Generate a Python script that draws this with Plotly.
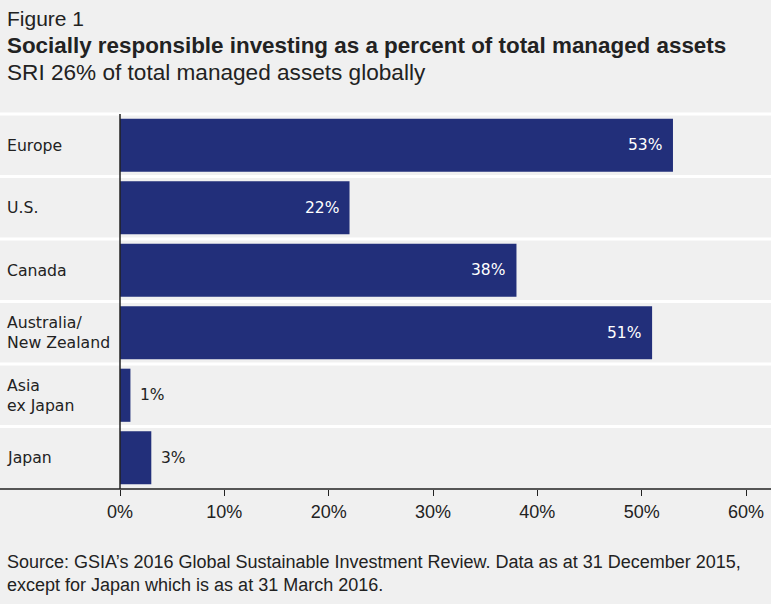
import plotly.graph_objects as go

categories = ["Europe", "U.S.", "Canada", "Australia/<br>New Zealand", "Asia<br>ex Japan", "Japan"]
values = [53, 22, 38, 51, 1, 3]
tick_vals = [0, 10, 20, 30, 40, 50, 60]
tick_text = ["0%", "10%", "20%", "30%", "40%", "50%", "60%"]

W, H = 771, 604
L, R, T, B = 120, 25, 113.5, 115
pw = W - L - R
ph = H - T - B

def py(ypx):
    return (H - B - ypx) / ph

def px(xpx):
    return (xpx - L) / pw

BG = "#f0f0f0"
BAR = "#222f7a"
TXT = "#222222"
BODY = "DejaVu Sans, Verdana, sans-serif"
HEAD = "Liberation Sans Narrow, Liberation Sans, Arial, sans-serif"

n = len(categories)
ypos = list(range(n))

fig = go.Figure()
fig.add_trace(go.Bar(
    x=values, y=ypos, orientation="h",
    marker=dict(color=BAR, line=dict(width=0)),
    width=0.85, hoverinfo="skip",
))

annotations = []
for i, (c, v) in enumerate(zip(categories, values)):
    annotations.append(dict(x=px(5), xref="paper", y=i, yref="y", text=c,
                            showarrow=False, xanchor="left", yanchor="middle", align="left",
                            font=dict(family=BODY, size=15.7, color=TXT)))
    if v > 10:
        annotations.append(dict(x=v, xref="x", y=i, yref="y", text=f"{v}%", showarrow=False,
                                xanchor="right", yanchor="middle", xshift=-9,
                                font=dict(family=BODY, size=15.5, color="white")))
    else:
        annotations.append(dict(x=v, xref="x", y=i, yref="y", text=f"{v}%", showarrow=False,
                                xanchor="left", yanchor="middle", xshift=8,
                                font=dict(family=BODY, size=15.5, color=TXT)))

annotations += [
    dict(x=px(5), y=py(18), xref="paper", yref="paper", text="Figure 1", showarrow=False,
         xanchor="left", yanchor="middle", font=dict(family=HEAD, size=21, color=TXT)),
    dict(x=px(5), y=py(45), xref="paper", yref="paper",
         text="<b>Socially responsible investing as a percent of total managed assets</b>",
         showarrow=False, xanchor="left", yanchor="middle", font=dict(family=HEAD, size=22.4, color=TXT)),
    dict(x=px(5), y=py(72), xref="paper", yref="paper", text="SRI 26% of total managed assets globally",
         showarrow=False, xanchor="left", yanchor="middle", font=dict(family=HEAD, size=22.6, color=TXT)),
    dict(x=px(5), y=py(574), xref="paper", yref="paper",
         text="Source: GSIA\u2019s 2016 Global Sustainable Investment Review. Data as at 31 December 2015,<br>except for Japan which is as at 31 March 2016.",
         showarrow=False, xanchor="left", yanchor="middle", align="left",
         font=dict(family=HEAD, size=18, color=TXT)),
]

shapes = []
for i in range(n - 1):
    shapes.append(dict(type="line", xref="paper", yref="y", x0=px(0), x1=px(W), y0=i + 0.5, y1=i + 0.5,
                       line=dict(color="white", width=3), layer="below"))
shapes.append(dict(type="line", xref="paper", yref="paper", x0=px(0), x1=px(W), y0=1, y1=1,
                   line=dict(color="white", width=3), layer="below"))
shapes.append(dict(type="line", xref="paper", yref="paper", x0=px(0), x1=px(W), y0=0, y1=0,
                   line=dict(color="#222222", width=1.5), layer="above"))
shapes.append(dict(type="line", xref="paper", yref="paper", x0=0, x1=0, y0=0, y1=1,
                   line=dict(color="#222222", width=1.5), layer="above"))

fig.update_layout(
    width=W, height=H,
    margin=dict(l=L, r=R, t=T, b=B, autoexpand=False),
    paper_bgcolor=BG, plot_bgcolor=BG,
    showlegend=False,
    annotations=annotations,
    shapes=shapes,
    xaxis=dict(range=[0, 60], tickvals=tick_vals, ticktext=tick_text, ticks="outside",
               ticklen=6, tickcolor="#222222", tickwidth=1, showgrid=False, zeroline=False,
               showline=False, fixedrange=True, automargin=False,
               tickfont=dict(family=HEAD, size=18, color=TXT)),
    yaxis=dict(range=[n - 0.5, -0.5], showticklabels=False, showgrid=False, zeroline=False,
               showline=False, fixedrange=True, automargin=False),
)

fig.write_html("out.html")
